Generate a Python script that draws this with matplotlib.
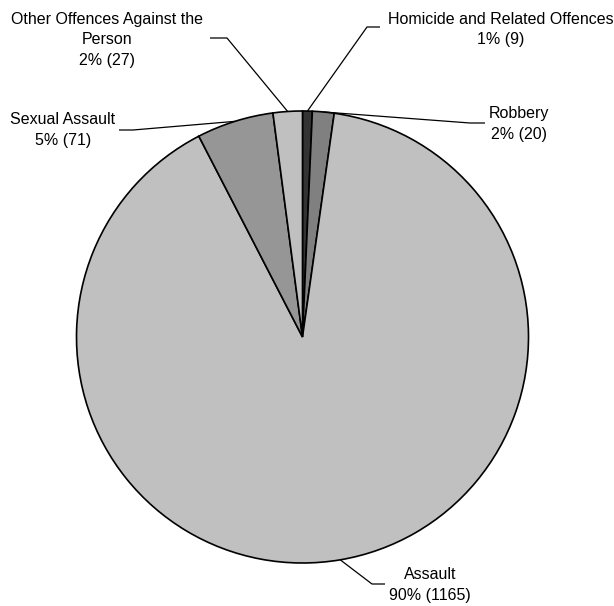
import numpy as np
import matplotlib
matplotlib.use("Agg")
import matplotlib.pyplot as plt

categories = ["Homicide and Related Offences", "Robbery", "Assault",
              "Sexual Assault", "Other Offences Against the\nPerson"]
values = [9, 20, 1165, 71, 27]
percent_labels = ["1%", "2%", "90%", "5%", "2%"]
colors = ["#333333", "#808080", "#c0c0c0", "#969696", "#c0c0c0"]

W, H = 614, 606
fig = plt.figure(figsize=(W / 100, H / 100), dpi=100)
ax = fig.add_axes([0, 0, 1, 1])
ax.axis("off")

cx, cy, R = 302.5, H - 337, 226
wedges, _ = ax.pie(values, colors=colors, startangle=90, counterclock=False,
                   center=(cx, cy), radius=R,
                   wedgeprops=dict(edgecolor="black", linewidth=1.2))
ax.set_xlim(0, W)
ax.set_ylim(0, H)
ax.set_aspect("equal")

# label layout in image px: (text center x, text center y, elbow x, elbow y, end x)
layout = [
    (501, 29.5, 367, 27, 380),
    (519, 124, 470, 123, 485),
    (430, 585, 372, 584, 385),
    (63, 130, 133, 130, 119),
    (107, 40, 227, 38, 210),
]

for w, cat, v, p, (tx, ty, ex, ey, endx) in zip(wedges, categories, values, percent_labels, layout):
    ang = np.deg2rad((w.theta1 + w.theta2) / 2)
    px = cx + R * np.cos(ang)
    py = cy + R * np.sin(ang)
    ax.plot([px, ex, endx], [py, H - ey, H - ey], color="black", lw=0.9,
            solid_capstyle="butt")
    ax.text(tx, H - ty, f"{cat}\n{p} ({v})", ha="center", va="center",
            fontsize=11.5, family=["Liberation Sans", "DejaVu Sans"],
            linespacing=1.42)

fig.savefig("out.png", dpi=100)
